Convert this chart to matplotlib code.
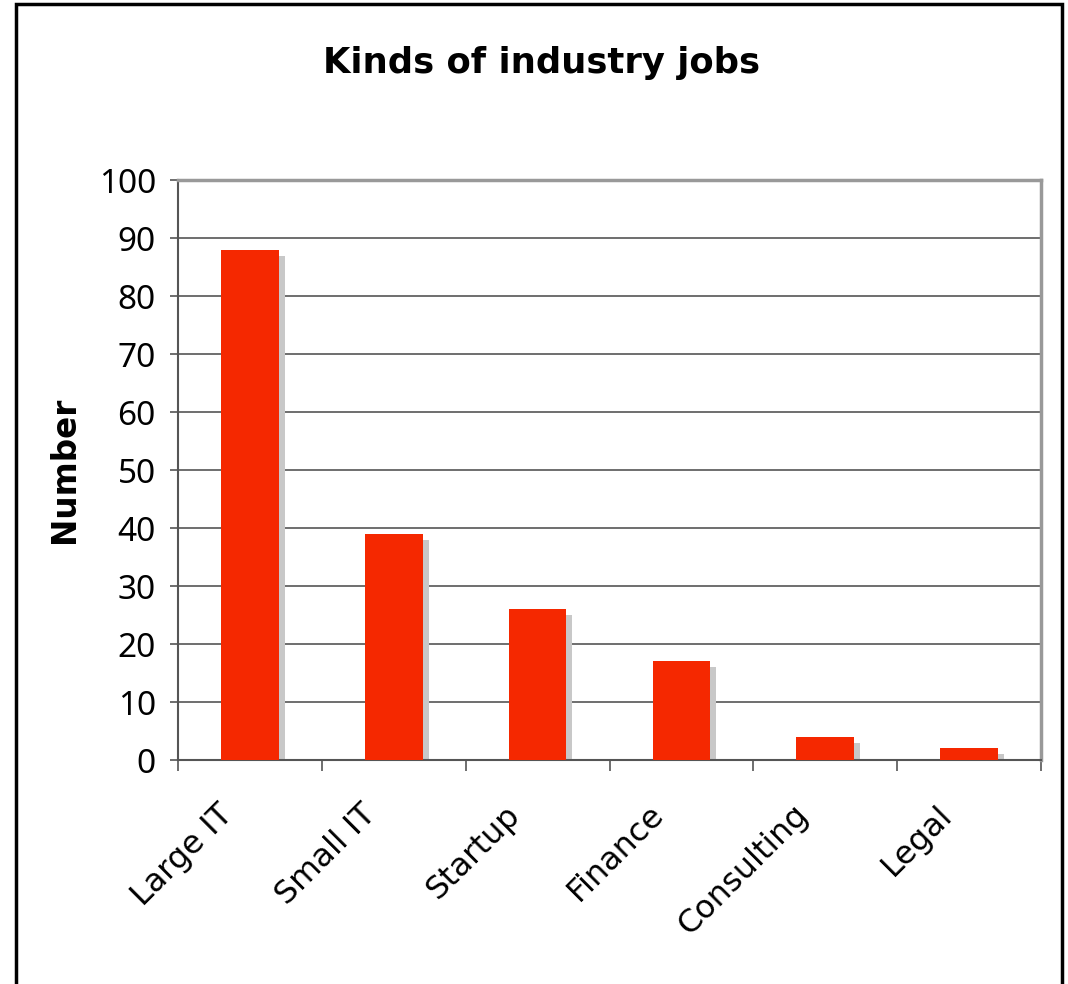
import numpy as np
import matplotlib.pyplot as plt
from matplotlib import transforms
from matplotlib.patches import Rectangle

plt.rcParams['font.family'] = ['Noto Sans', 'DejaVu Sans']

categories = ["Large IT", "Small IT", "Startup", "Finance", "Consulting", "Legal"]
counts = [88, 39, 26, 17, 4, 2]

fig = plt.figure(figsize=(10.68, 9.84), dpi=100)
ax = fig.add_axes([0.1667, 0.2276, 0.808, 0.5894])

x = np.arange(len(categories))

# ombre grise décalée
shadow = transforms.offset_copy(ax.transData, fig=fig, x=6, y=-6, units='dots')
ax.bar(x, counts, width=0.4, color='#c8c8c8', transform=shadow, zorder=2)
ax.bar(x, counts, width=0.4, color='#f52800', zorder=3)

ax.set_xlim(-0.5, len(categories) - 0.5)
ax.set_ylim(0, 100)
ax.set_yticks(np.arange(0, 101, 10))
ax.grid(axis='y', color='#555555', linewidth=1.2, zorder=1)

ax.set_xticks(x)
ax.set_xticklabels(categories, rotation=45, ha='right', va='center', rotation_mode='anchor',
                   fontsize=23, family='DejaVu Sans')
ax.set_xticks(np.arange(-0.5, len(categories)), minor=True)
ax.tick_params(axis='x', which='major', length=0, pad=0)
ax.tick_params(axis='x', which='minor', length=8, width=1.2, color='#555555')
ax.tick_params(axis='y', labelsize=24, length=6, width=1.2, color='#555555', pad=10)

decal = transforms.ScaledTranslation(-0.22, -0.5, fig.dpi_scale_trans)
for lab in ax.get_xticklabels():
    lab.set_transform(lab.get_transform() + decal)

for s in ['top', 'right']:
    ax.spines[s].set_color('#999999')
    ax.spines[s].set_linewidth(2.5)
for s in ['left', 'bottom']:
    ax.spines[s].set_color('#555555')
    ax.spines[s].set_linewidth(1.5)

ax.set_ylabel("Number", fontsize=23.5, fontweight='bold', family='DejaVu Sans')
ax.yaxis.set_label_coords(-0.112, 0.5)
fig.text(0.5066, 0.936, "Kinds of industry jobs", ha='center', va='center', fontsize=25.5,
         fontweight='bold', family='DejaVu Sans')

# cadre noir autour de la figure
fig.patches.append(Rectangle((16 / 1068, -0.05), 1046 / 1068, 1.0 - 4 / 984 + 0.05,
                             transform=fig.transFigure, fill=False, edgecolor='black', linewidth=2.5))

fig.savefig("out.png", dpi=100)
